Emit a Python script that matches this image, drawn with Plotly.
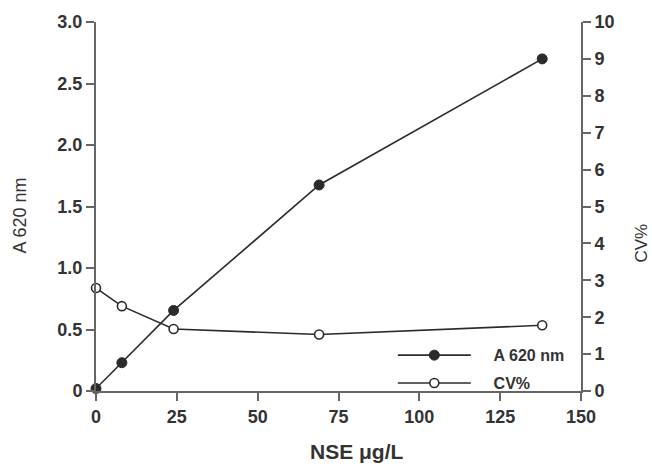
import plotly.graph_objects as go

nse = [0, 8, 24, 69, 138]
a620 = [0.02, 0.23, 0.655, 1.675, 2.70]
cv = [2.79, 2.30, 1.68, 1.53, 1.78]

left_ticks = [0, 0.5, 1.0, 1.5, 2.0, 2.5, 3.0]
left_ticktext = ["0", "0.5", "1.0", "1.5", "2.0", "2.5", "3.0"]
right_ticks = list(range(0, 11))
x_ticks = [0, 25, 50, 75, 100, 125, 150]

line_col = "#2b2b2b"
axis_col = "#666666"
text_col = "#333333"
font_fam = "Liberation Sans, Arial, sans-serif"
pad = "\u00a0\u00a0\u00a0\u00a0"

fig = go.Figure()
fig.add_trace(go.Scatter(
    x=nse, y=a620, name=pad + "<b>A 620 nm</b>", mode="lines+markers",
    legendgroup="a", line=dict(color=line_col, width=1.6),
    marker=dict(symbol="circle", size=10, color=line_col, line=dict(color=line_col, width=1)),
    cliponaxis=False, yaxis="y"))
fig.add_trace(go.Scatter(
    x=nse, y=cv, name=pad + "<b>CV%</b>", mode="lines+markers",
    legendgroup="b", line=dict(color=line_col, width=1.6),
    marker=dict(symbol="circle", size=9, color="white", line=dict(color=line_col, width=1.6)),
    cliponaxis=False, yaxis="y2"))

tickfont = dict(family=font_fam, size=18, color=text_col, weight="bold")
common = dict(ticks="outside", ticklen=8, tickwidth=2, tickcolor=axis_col,
              showline=True, linecolor=axis_col, linewidth=2, showgrid=False,
              zeroline=False, tickfont=tickfont)

fig.update_layout(
    width=652, height=468,
    margin=dict(l=96, r=71, t=20, b=77),
    paper_bgcolor="white", plot_bgcolor="white",
    font=dict(family=font_fam, color=text_col),
    showlegend=True,
    legend=dict(x=0.612, y=0.143, xanchor="left", yanchor="top",
                bgcolor="rgba(0,0,0,0)", font=dict(size=16, color=text_col),
                traceorder="grouped", tracegroupgap=4, itemwidth=73),
    xaxis=dict(range=[0, 150], tickvals=x_ticks, **common),
    yaxis=dict(range=[0, 3.0], tickvals=left_ticks, ticktext=left_ticktext, **common),
    yaxis2=dict(range=[0, 10], tickvals=right_ticks, overlaying="y", side="right", **common),
    annotations=[
        dict(text="<b>NSE μg/L</b>", xref="paper", yref="paper", x=0.538, y=-0.165,
             xanchor="center", yanchor="middle", showarrow=False,
             font=dict(size=21, color=text_col)),
        dict(text="A 620 nm", xref="paper", yref="paper", x=-0.157, y=0.475,
             xanchor="center", yanchor="middle", textangle=-90, showarrow=False,
             font=dict(size=18, color=text_col)),
        dict(text="CV%", xref="paper", yref="paper", x=1.124, y=0.40,
             xanchor="center", yanchor="middle", textangle=-90, showarrow=False,
             font=dict(size=17, color=text_col)),
    ],
)

fig.write_html("out.html", config={"displayModeBar": False},
               post_script="document.body.style.margin='0';")
